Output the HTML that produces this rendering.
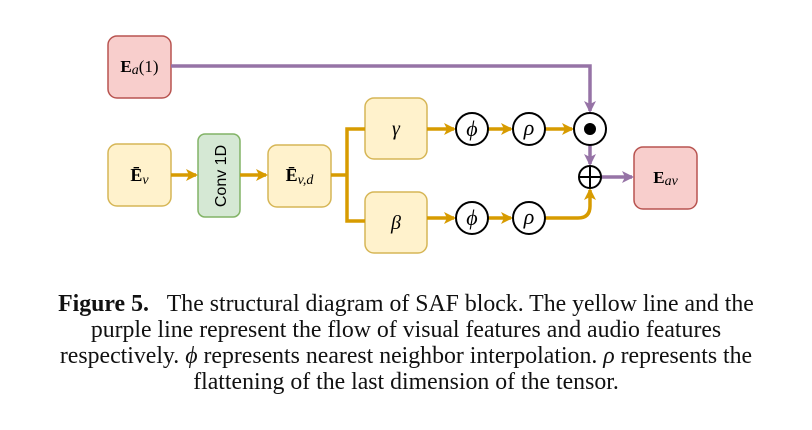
<!DOCTYPE html>
<html><head><meta charset="utf-8"><style>
body{margin:0;background:#fff;width:812px;height:430px;overflow:hidden}
.cap{position:absolute;left:0;width:812px;top:291px;text-align:center;font-family:"Liberation Serif",serif;font-size:23.8px;line-height:26px;color:#111;white-space:nowrap}
</style></head><body>
<svg width="812" height="290" style="position:absolute;left:0;top:0" xmlns="http://www.w3.org/2000/svg">
<defs>
<marker id="ap" markerWidth="14" markerHeight="14" refX="10" refY="6" orient="auto" markerUnits="userSpaceOnUse"><path d="M0,0 L12,6 L0,12 L3,6Z" fill="#9673a6"/></marker>
<marker id="ay2" markerWidth="14" markerHeight="14" refX="10" refY="6" orient="auto" markerUnits="userSpaceOnUse"><path d="M0,0 L12,6 L0,12 L3,6Z" fill="#d79b00"/></marker>
</defs>
<g font-family="Liberation Serif,serif" font-size="17">
<rect x="108" y="36" width="63" height="62" rx="9" fill="#f8cecc" stroke="#b85450" stroke-width="1.5"/>
<text x="139.5" y="72" text-anchor="middle" font-size="17"><tspan font-weight="bold">E</tspan><tspan font-style="italic" font-size="14" dy="2">a</tspan><tspan dy="-2">(1)</tspan></text>
<rect x="108" y="144" width="63" height="62" rx="9" fill="#fff2cc" stroke="#d6b656" stroke-width="1.5"/>
<text x="139.5" y="181" text-anchor="middle" font-size="18"><tspan font-weight="bold">Ē</tspan><tspan font-style="italic" font-size="14" dy="3">v</tspan></text>
<rect x="198" y="134" width="42" height="83" rx="7" fill="#d5e8d4" stroke="#82b366" stroke-width="1.5"/>
<text x="0" y="0" transform="translate(226,176) rotate(-90)" text-anchor="middle" font-family="Liberation Sans,sans-serif" font-size="16">Conv 1D</text>
<rect x="268" y="145" width="63" height="62" rx="9" fill="#fff2cc" stroke="#d6b656" stroke-width="1.5"/>
<text x="299.5" y="181" text-anchor="middle" font-size="18"><tspan font-weight="bold">Ē</tspan><tspan font-style="italic" font-size="14" dy="3">v,d</tspan></text>
<rect x="365" y="98" width="62" height="61" rx="9" fill="#fff2cc" stroke="#d6b656" stroke-width="1.5"/>
<text x="396" y="135" text-anchor="middle" font-style="italic" font-size="20">γ</text>
<rect x="365" y="192" width="62" height="61" rx="9" fill="#fff2cc" stroke="#d6b656" stroke-width="1.5"/>
<text x="396" y="229" text-anchor="middle" font-style="italic" font-size="20">β</text>
<rect x="634" y="147" width="63" height="62" rx="9" fill="#f8cecc" stroke="#b85450" stroke-width="1.5"/>
<text x="665.5" y="183" text-anchor="middle" font-size="17"><tspan font-weight="bold">E</tspan><tspan font-style="italic" font-size="14" dy="2">av</tspan></text>
</g>
<g stroke="#d79b00" stroke-width="3.5" fill="none">
<line x1="171" y1="175" x2="196" y2="175" marker-end="url(#ay2)"/>
<line x1="240" y1="175" x2="266" y2="175" marker-end="url(#ay2)"/>
<path d="M331,175 H347 V129 H365 M347,175 V221 H365"/>
<line x1="427" y1="129" x2="454" y2="129" marker-end="url(#ay2)"/>
<line x1="488" y1="129" x2="511" y2="129" marker-end="url(#ay2)"/>
<line x1="545" y1="129" x2="572" y2="129" marker-end="url(#ay2)"/>
<line x1="427" y1="218" x2="454" y2="218" marker-end="url(#ay2)"/>
<line x1="488" y1="218" x2="511" y2="218" marker-end="url(#ay2)"/>
<path d="M545,218 H578 Q590,218 590,206 V190" marker-end="url(#ay2)"/>
</g>
<g stroke="#9673a6" stroke-width="3.5" fill="none">
<path d="M171,66 H590 V111" marker-end="url(#ap)"/>
<line x1="590" y1="145" x2="590" y2="164" marker-end="url(#ap)"/>
<line x1="601" y1="177" x2="632" y2="177" marker-end="url(#ap)"/>
</g>
<g stroke="#000" stroke-width="2" fill="#fff">
<circle cx="472" cy="129" r="16"/><circle cx="529" cy="129" r="16"/>
<circle cx="472" cy="218" r="16"/><circle cx="529" cy="218" r="16"/>
<circle cx="590" cy="129" r="16"/>
<circle cx="590" cy="177" r="11"/>
<line x1="579" y1="177" x2="601" y2="177"/><line x1="590" y1="166" x2="590" y2="188"/>
</g>
<circle cx="590" cy="129" r="6" fill="#000"/>
<g font-family="Liberation Serif,serif" font-style="italic" font-size="22" text-anchor="middle">
<text x="472" y="136">ϕ</text><text x="529" y="135">ρ</text>
<text x="472" y="225">ϕ</text><text x="529" y="224">ρ</text>
</g>
</svg>
<div class="cap"><b>Figure 5.</b>&nbsp;&nbsp;&nbsp;The structural diagram of SAF block. The yellow line and the<br>purple line represent the flow of visual features and audio features<br>respectively. <i>ϕ</i> represents nearest neighbor interpolation. <i>ρ</i> represents the<br>flattening of the last dimension of the tensor.</div>
</body></html>
